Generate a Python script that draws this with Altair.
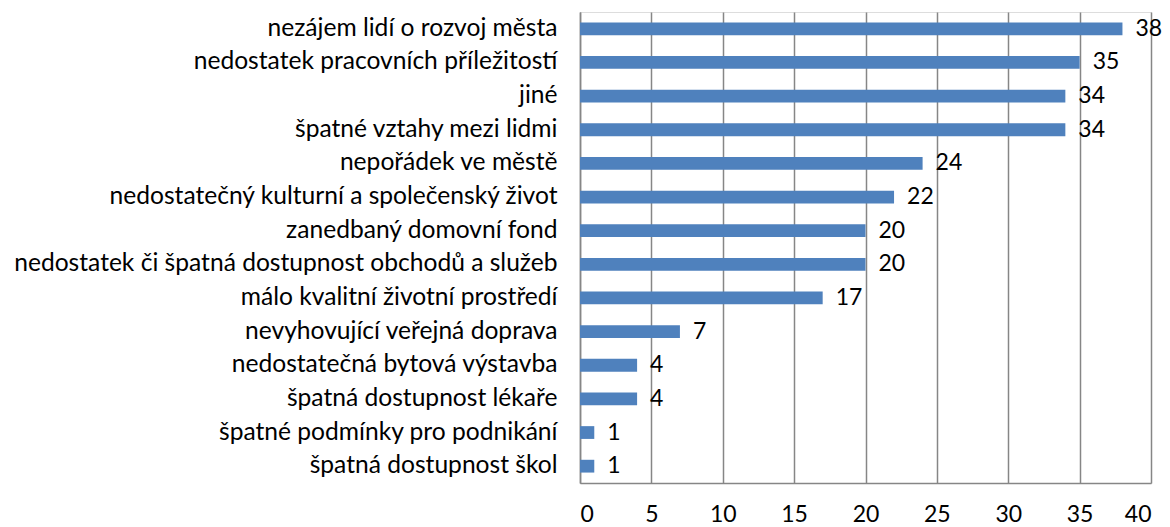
import altair as alt
import pandas as pd

categories = [
    "nezájem lidí o rozvoj města",
    "nedostatek pracovních příležitostí",
    "jiné",
    "špatné vztahy mezi lidmi",
    "nepořádek ve městě",
    "nedostatečný kulturní a společenský život",
    "zanedbaný domovní fond",
    "nedostatek či špatná dostupnost obchodů a služeb",
    "málo kvalitní životní prostředí",
    "nevyhovující veřejná doprava",
    "nedostatečná bytová výstavba",
    "špatná dostupnost lékaře",
    "špatné podmínky pro podnikání",
    "špatná dostupnost škol",
]
values = [38, 35, 34, 34, 24, 22, 20, 20, 17, 7, 4, 4, 1, 1]
x_ticks = [0, 5, 10, 15, 20, 25, 30, 35, 40]

df = pd.DataFrame({"cat": categories, "val": values})

FONT = "Lato"

y_enc = alt.Y(
    "cat:N",
    sort=categories,
    title=None,
    scale=alt.Scale(paddingInner=0.62, paddingOuter=0.31),
    axis=alt.Axis(
        ticks=False,
        labelPadding=23,
        labelFontSize=24.6,
        labelFont=FONT,
        labelColor="#000000",
        domainColor="#868686",
        domainWidth=1.5,
        labelLimit=700,
    ),
)

x_enc = alt.X(
    "val:Q",
    title=None,
    scale=alt.Scale(domain=[0, 40], nice=False),
    axis=alt.Axis(
        values=x_ticks,
        ticks=False,
        grid=True,
        gridColor="#868686",
        gridWidth=1.5,
        domainColor="#868686",
        domainWidth=1.5,
        labelPadding=20,
        labelFontSize=23,
        labelFont=FONT,
        labelColor="#000000",
    ),
)

bars = alt.Chart(df).mark_bar(color="#4F81BD").encode(x=x_enc, y=y_enc)

labels = alt.Chart(df).mark_text(
    align="left", baseline="middle", dx=13, fontSize=23, font=FONT, color="#000000"
).encode(
    x=alt.X("val:Q"),
    y=alt.Y("cat:N", sort=categories),
    text=alt.Text("val:Q"),
)

chart = (
    alt.layer(bars, labels)
    .properties(
        width=571,
        height=471,
        autosize=alt.AutoSizeParams(type="none"),
        padding={"left": 572, "top": 4, "right": 11, "bottom": 44},
    )
    .configure_view(stroke=None)
    .configure(background="#ffffff")
)

chart.save("out.html", embed_options={"renderer": "svg", "actions": False})
